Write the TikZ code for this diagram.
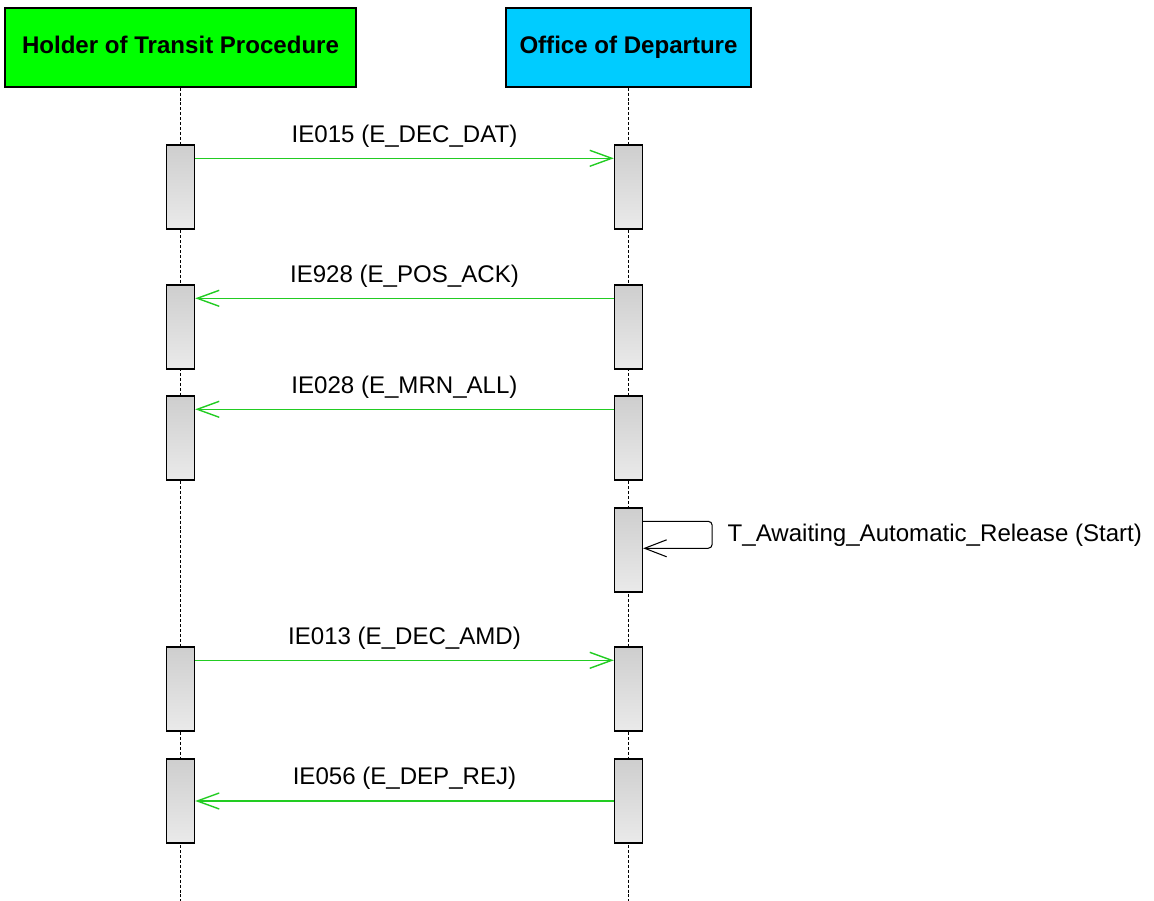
\documentclass[tikz,border=0pt]{standalone}
\usepackage{fontspec}
\setmainfont{Liberation Sans}
\usetikzlibrary{arrows.meta}
\definecolor{holdergreen}{RGB}{0,255,0}
\definecolor{officecyan}{RGB}{0,204,255}
\definecolor{msggreen}{RGB}{34,204,34}
\definecolor{acttop}{RGB}{206,206,206}
\definecolor{actbot}{RGB}{234,234,234}
\begin{document}
\begin{tikzpicture}[x=0.02cm,y=-0.02cm,
		font=\fontsize{13.7}{16}\selectfont,
		actor/.style={draw,line width=0.8pt,minimum height=1.58cm,inner sep=0pt,text height=0.716em,text depth=0pt,font=\fontsize{13.7}{16}\selectfont\bfseries},
		act/.style={draw,line width=0.8pt,minimum width=0.56cm,minimum height=1.68cm,inner sep=0pt,top color=acttop,bottom color=actbot},
		lifeline/.style={line width=0.7pt,dash pattern=on 1.7pt off 1.1pt},
		msg/.style={draw=msggreen,line width=0.8pt,-{Straight Barb[length=0.44cm,width=0.32cm]}},
		msglabel/.style={midway,yshift=0.45cm,text=black},
		selfmsg/.style={line width=0.6pt,rounded corners=0.08cm,-{Straight Barb[length=0.44cm,width=0.34cm]}}]
		\useasboundingbox (0,0) rectangle (1154,901);
		\node[actor,fill=holdergreen,minimum width=7.02cm] (holder) at (180.5,47.5) {Holder of Transit Procedure};
		\node[actor,fill=officecyan,minimum width=4.9cm] (office) at (628.5,47.5) {Office of Departure};
		\coordinate (holderend) at (180.5,901);
		\coordinate (officeend) at (628.5,901);
		\draw[lifeline] (holder) -- (holderend);
		\draw[lifeline] (office) -- (officeend);
		\node[act] (h1) at (180.5,187) {};
		\node[act] (o1) at (628.5,187) {};
		\node[act] (h2) at (180.5,327) {};
		\node[act] (o2) at (628.5,327) {};
		\node[act] (h3) at (180.5,438) {};
		\node[act] (o3) at (628.5,438) {};
		\node[act] (o4) at (628.5,550) {};
		\node[act] (h5) at (180.5,689) {};
		\node[act] (o5) at (628.5,689) {};
		\node[act] (h6) at (180.5,801) {};
		\node[act] (o6) at (628.5,801) {};
		\draw[msg] ([yshift=-0.28cm]h1.north east) -- node[msglabel] {IE015 (E\_DEC\_DAT)} ([yshift=-0.28cm]o1.north west);
		\draw[msg] ([yshift=-0.28cm]o2.north west) -- node[msglabel] {IE928 (E\_POS\_ACK)} ([yshift=-0.28cm]h2.north east);
		\draw[msg] ([yshift=-0.28cm]o3.north west) -- node[msglabel] {IE028 (E\_MRN\_ALL)} ([yshift=-0.28cm]h3.north east);
		\draw[selfmsg] ([yshift=-0.28cm]o4.north east) -- ++(69,0) -- ++(0,27)
			node[midway,right=0.3cm,inner sep=0pt] {T\_Awaiting\_Automatic\_Release (Start)} -- ([yshift=-0.82cm]o4.north east);
		\draw[msg] ([yshift=-0.28cm]h5.north east) -- node[msglabel] {IE013 (E\_DEC\_AMD)} ([yshift=-0.28cm]o5.north west);
		\draw[msg] (o6.west) -- node[msglabel] {IE056 (E\_DEP\_REJ)} (h6.east);
	\end{tikzpicture}
\end{document}
